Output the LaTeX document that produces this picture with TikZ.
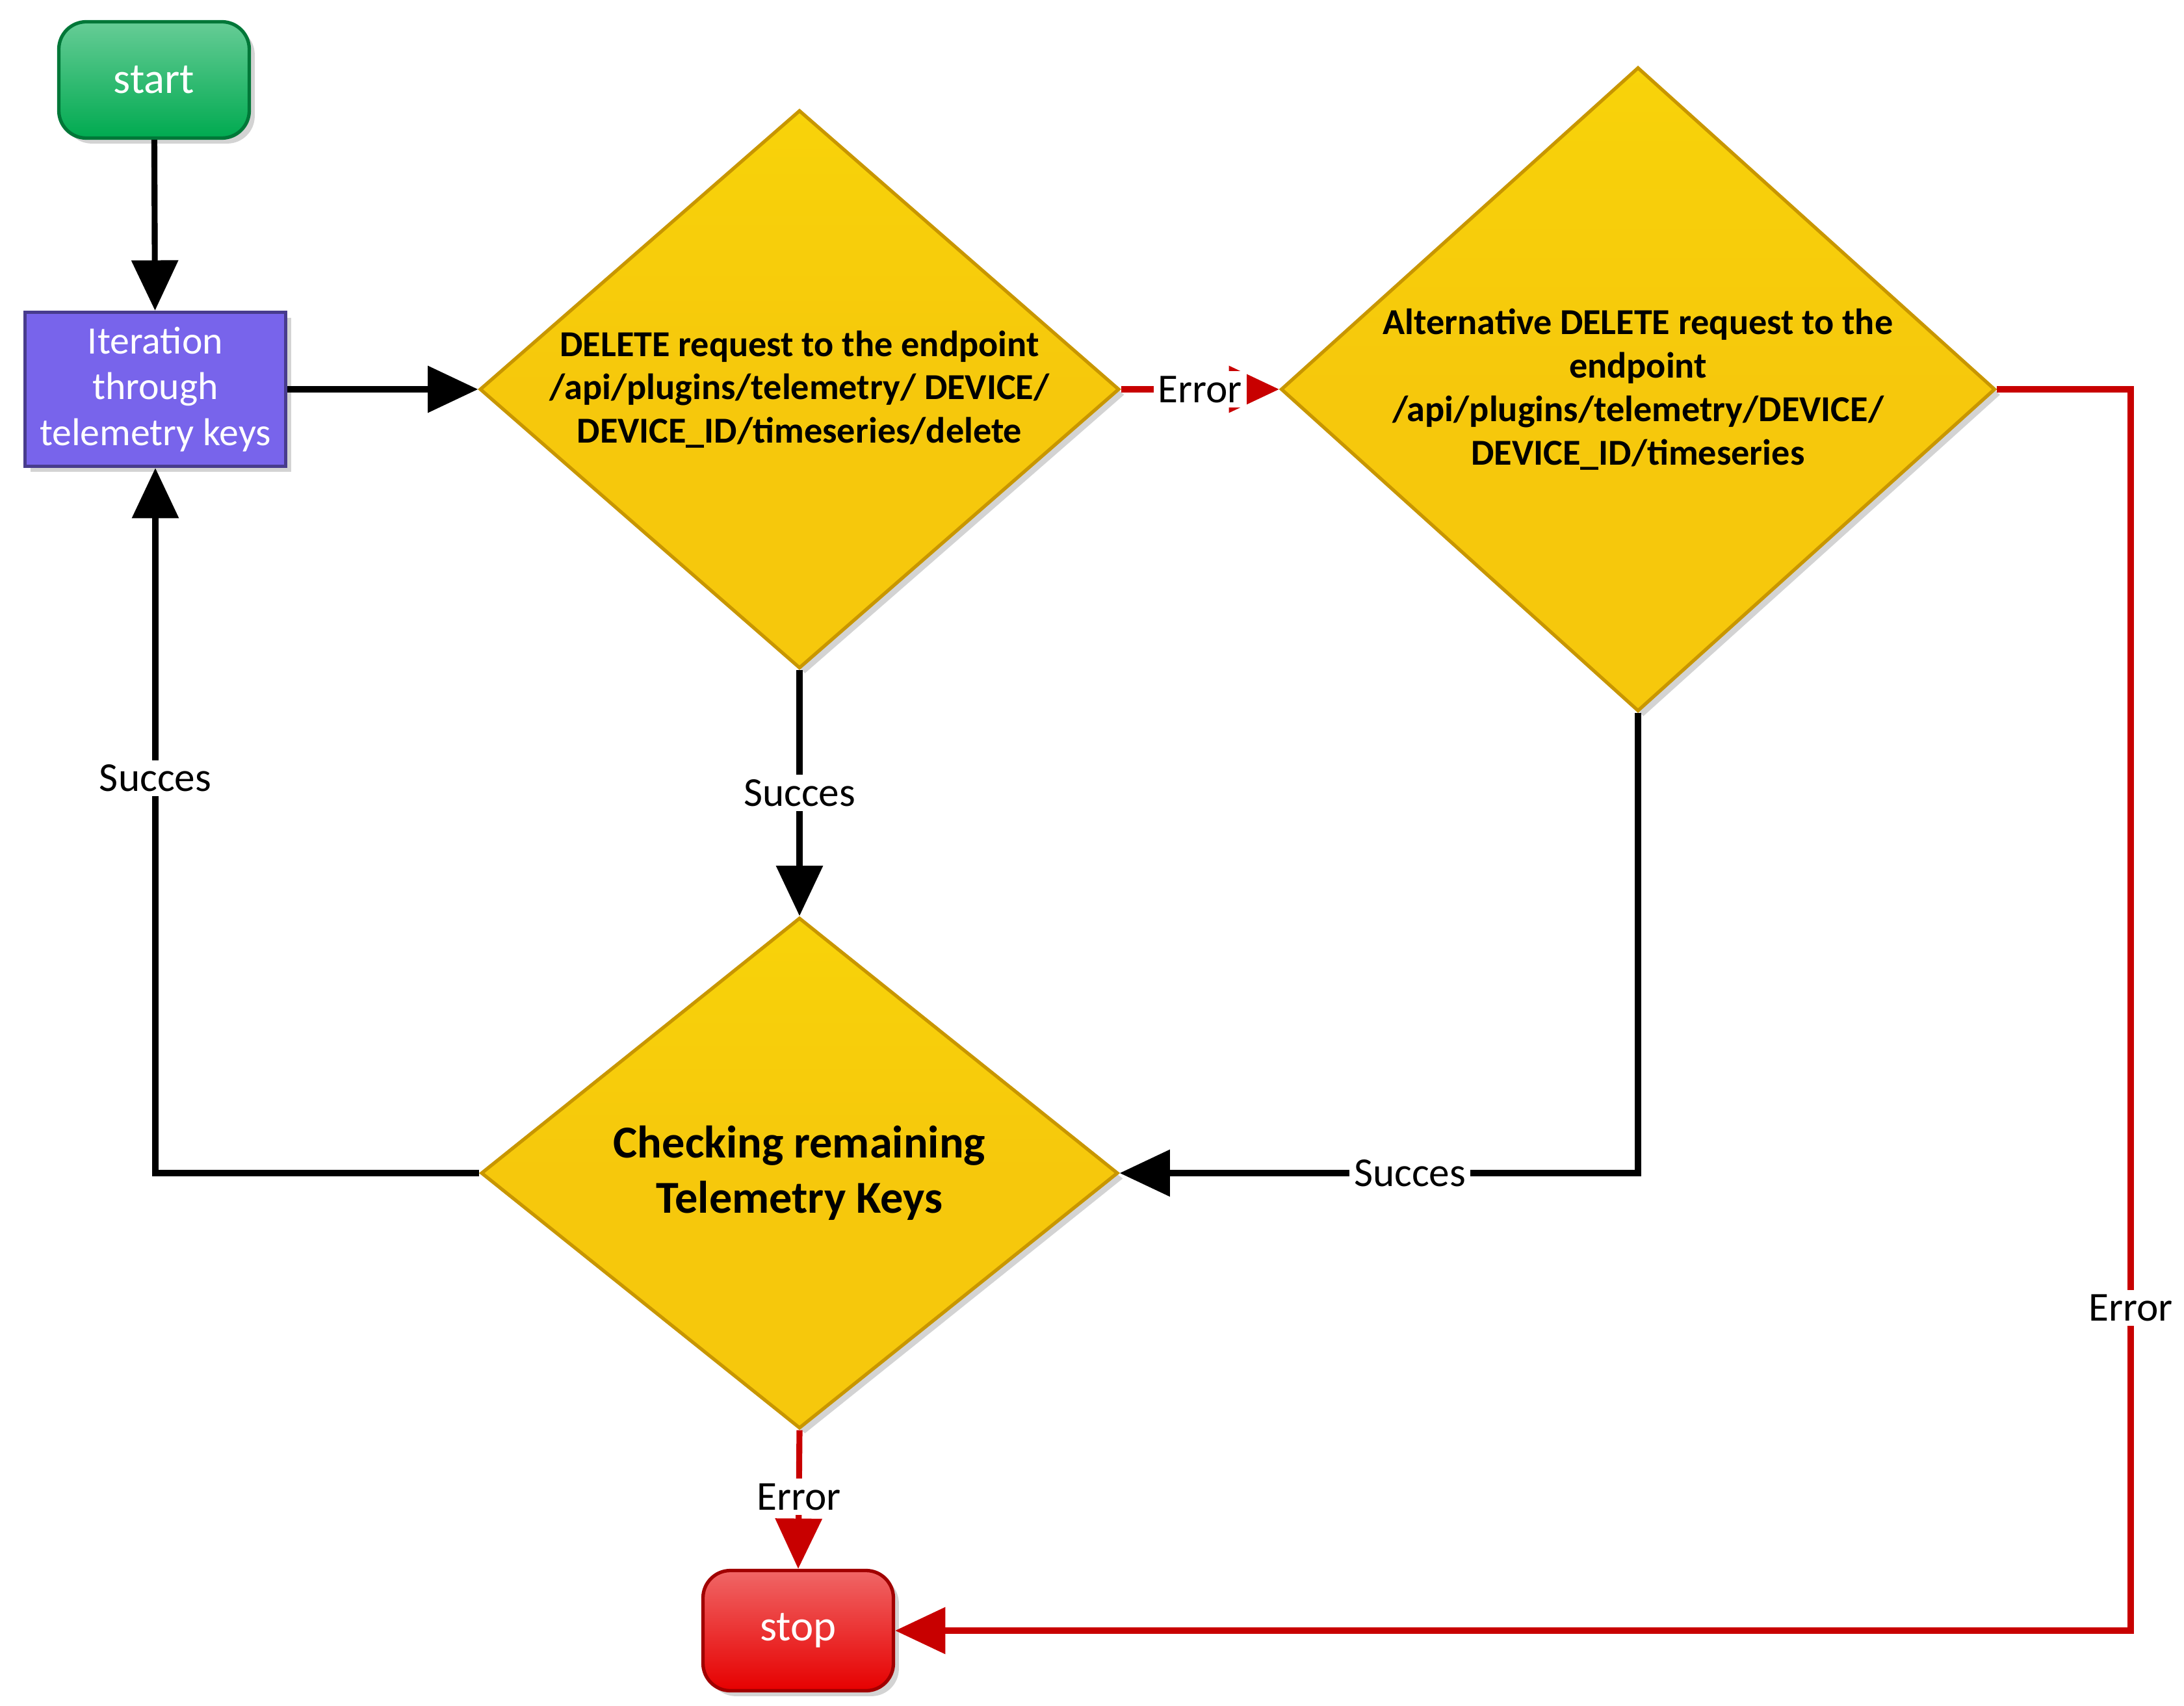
\documentclass[tikz,border=0pt]{standalone}
\usepackage{fontspec}
\setmainfont{Carlito}
\usetikzlibrary{shapes.geometric,arrows.meta,shadows}
\definecolor{gold}{RGB}{246,200,12}
\definecolor{golddark}{RGB}{200,150,0}
\definecolor{grn}{RGB}{0,170,80}
\definecolor{prp}{RGB}{120,100,235}
\definecolor{rd}{RGB}{230,0,0}
\definecolor{arred}{RGB}{200,0,0}
\tikzset{
 dia/.style={diamond,inner sep=0pt,draw=golddark,line width=1.5pt,top color=gold!80!yellow,bottom color=gold,middle color=gold,drop shadow={opacity=0.35}},
 dtext/.style={align=center,font=\bfseries\fontsize{16}{19}\selectfont},
 term/.style={rounded corners=12pt,line width=1.5pt,text=white,font=\fontsize{19}{22}\selectfont,drop shadow={opacity=0.35}},
 arr/.style={line width=2.6pt,-{Triangle[length=22pt,width=20pt]}},
 lbl/.style={fill=white,inner sep=2pt,font=\fontsize{18}{21}\selectfont},
}
\begin{document}
\begin{tikzpicture}
\useasboundingbox (0,0) rectangle (33.6,-26.25);
\node[term,draw=grn!70!black,top color=grn!60!white,bottom color=grn,minimum width=2.93cm,minimum height=1.79cm] (start) at (2.37,-1.23) {start};
\node[draw=prp!60!black,line width=1.5pt,fill=prp,text=white,align=center,font=\fontsize{17}{20}\selectfont,minimum width=4.01cm,minimum height=2.37cm,drop shadow={opacity=0.35}] (iter) at (2.39,-5.99) {Iteration\\through\\telemetry keys};
\node[dia,minimum width=9.84cm,minimum height=8.59cm] (d1) at (12.30,-5.99) {};
\node[dtext] (t1) at (12.30,-5.99) {DELETE request to the endpoint\\/api/plugins/telemetry/ DEVICE/\\DEVICE\_ID/timeseries/delete};
\node[dia,minimum width=10.99cm,minimum height=9.91cm] (d2) at (25.20,-5.99) {};
\node[dtext] (t2) at (25.20,-5.99) {Alternative DELETE request to the\\endpoint\\/api/plugins/telemetry/DEVICE/\\DEVICE\_ID/timeseries};
\node[dia,minimum width=9.80cm,minimum height=7.86cm] (d3) at (12.30,-18.05) {};
\node[dtext,font=\bfseries\fontsize{20}{24}\selectfont] (t3) at (12.30,-18.05) {Checking remaining\\Telemetry Keys};
\node[term,draw=rd!70!black,top color=rd!60!white,bottom color=rd,minimum width=2.93cm,minimum height=1.85cm] (stop) at (12.28,-25.09) {stop};
\coordinate (rc) at (32.78,-5.99);

\draw[arr] (start) -- (iter);
\draw[arr] (iter) -- (d1);
\draw[arr,arred] (d1.east) -- (d2.west) node[lbl,midway,text=black] {Error};
\draw[arr] (d1.south) -- (d3.north) node[lbl,pos=0.5] {Succes};
\draw[arr] (d2.south) |- (d3.east) node[lbl,pos=0.72] {Succes};
\draw[arr] (d3.west) -| (iter.south) node[lbl,pos=0.78] {Succes};
\draw[arr,arred] (d2.east) -- (rc) |- (stop.east) node[lbl,pos=0.37,text=black] {Error};
\draw[arr,arred] (d3.south) -- (stop.north) node[lbl,pos=0.48,text=black] {Error};
\end{tikzpicture}
\end{document}
